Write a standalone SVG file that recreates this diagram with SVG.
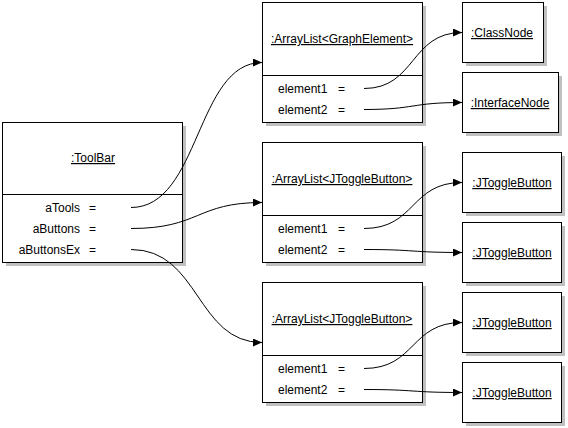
<svg xmlns="http://www.w3.org/2000/svg" width="568" height="428" viewBox="0 0 568 428">
<style>
.box{fill:#fff;stroke:#000;stroke-width:1;shape-rendering:crispEdges}
.sh{fill:#c0c0c0;shape-rendering:crispEdges}
.sep{stroke:#000;stroke-width:1;shape-rendering:crispEdges}
.t{font-family:"Liberation Sans",Arial,sans-serif;font-size:12px;fill:#000}
.title{text-anchor:middle;text-decoration:underline}
.r{text-anchor:end}
.c{fill:none;stroke:#000;stroke-width:1}
</style>
<defs>
<marker id="ah" markerUnits="userSpaceOnUse" markerWidth="10" markerHeight="10" refX="9" refY="4" orient="auto">
<path d="M0,0 L9,4 L0,8 z" fill="#000"/>
</marker>
</defs>
<rect width="568" height="428" fill="#fff"/>

<g id="toolbar">
<rect class="sh" x="6" y="126" width="180" height="140"/>
<rect class="box" x="2.5" y="122.5" width="180" height="140"/>
<line class="sep" x1="2.5" y1="194.5" x2="182.5" y2="194.5"/>
<text class="t title" x="93" y="162">:ToolBar</text>
<text class="t r" x="80" y="212">aTools</text>
<text class="t" x="89" y="212">=</text>
<text class="t r" x="80" y="233">aButtons</text>
<text class="t" x="89" y="233">=</text>
<text class="t r" x="80" y="254">aButtonsEx</text>
<text class="t" x="89" y="254">=</text>
</g>

<g id="arraylist1">
<rect class="sh" x="266" y="6" width="160" height="120"/>
<rect class="box" x="262.5" y="2.5" width="160" height="120"/>
<line class="sep" x1="262.5" y1="75.5" x2="422.5" y2="75.5"/>
<text class="t title" x="342" y="43">:ArrayList&lt;GraphElement&gt;</text>
<text class="t" x="278" y="93">element1</text>
<text class="t" x="338" y="93">=</text>
<text class="t" x="278" y="114">element2</text>
<text class="t" x="338" y="114">=</text>
</g>

<g id="arraylist2">
<rect class="sh" x="266" y="146" width="160" height="120"/>
<rect class="box" x="262.5" y="142.5" width="160" height="120"/>
<line class="sep" x1="262.5" y1="215.5" x2="422.5" y2="215.5"/>
<text class="t title" x="342" y="183">:ArrayList&lt;JToggleButton&gt;</text>
<text class="t" x="278" y="233">element1</text>
<text class="t" x="338" y="233">=</text>
<text class="t" x="278" y="254">element2</text>
<text class="t" x="338" y="254">=</text>
</g>

<g id="arraylist3">
<rect class="sh" x="266" y="286" width="160" height="120"/>
<rect class="box" x="262.5" y="282.5" width="160" height="120"/>
<line class="sep" x1="262.5" y1="355.5" x2="422.5" y2="355.5"/>
<text class="t title" x="342" y="323">:ArrayList&lt;JToggleButton&gt;</text>
<text class="t" x="278" y="373">element1</text>
<text class="t" x="338" y="373">=</text>
<text class="t" x="278" y="394">element2</text>
<text class="t" x="338" y="394">=</text>
</g>

<g id="classnode">
<rect class="sh" x="466" y="6" width="81" height="60"/>
<rect class="box" x="462.5" y="2.5" width="81" height="60"/>
<text class="t title" x="502" y="37">:ClassNode</text>
</g>

<g id="interfacenode">
<rect class="sh" x="466" y="76" width="96" height="60"/>
<rect class="box" x="462.5" y="72.5" width="96" height="60"/>
<text class="t title" x="510" y="107">:InterfaceNode</text>
</g>

<g id="jtoggle1">
<rect class="sh" x="466" y="156" width="99" height="60"/>
<rect class="box" x="462.5" y="152.5" width="99" height="60"/>
<text class="t title" x="512" y="187">:JToggleButton</text>
</g>

<g id="jtoggle2">
<rect class="sh" x="466" y="226" width="99" height="60"/>
<rect class="box" x="462.5" y="222.5" width="99" height="60"/>
<text class="t title" x="512" y="257">:JToggleButton</text>
</g>

<g id="jtoggle3">
<rect class="sh" x="466" y="296" width="99" height="60"/>
<rect class="box" x="462.5" y="292.5" width="99" height="60"/>
<text class="t title" x="512" y="327">:JToggleButton</text>
</g>

<g id="jtoggle4">
<rect class="sh" x="466" y="366" width="99" height="60"/>
<rect class="box" x="462.5" y="362.5" width="99" height="60"/>
<text class="t title" x="512" y="397">:JToggleButton</text>
</g>

<g id="connectors">
<path class="c" marker-end="url(#ah)" d="M131,207.5 C200,207.5 196,62.5 262,62.5"/>
<path class="c" marker-end="url(#ah)" d="M131,228.5 C200,228.5 196,202.5 262,202.5"/>
<path class="c" marker-end="url(#ah)" d="M131,249.5 C200,249.5 196,342.5 262,342.5"/>
<path class="c" marker-end="url(#ah)" d="M364,88.5 C416,88.5 410,32.5 462,32.5"/>
<path class="c" marker-end="url(#ah)" d="M364,109.5 C416,109.5 410,102.5 462,102.5"/>
<path class="c" marker-end="url(#ah)" d="M364,228.5 C416,228.5 410,182.5 462,182.5"/>
<path class="c" marker-end="url(#ah)" d="M364,249.5 C416,249.5 410,252.5 462,252.5"/>
<path class="c" marker-end="url(#ah)" d="M364,368.5 C416,368.5 410,322.5 462,322.5"/>
<path class="c" marker-end="url(#ah)" d="M364,389.5 C416,389.5 410,392.5 462,392.5"/>
</g>
</svg>
